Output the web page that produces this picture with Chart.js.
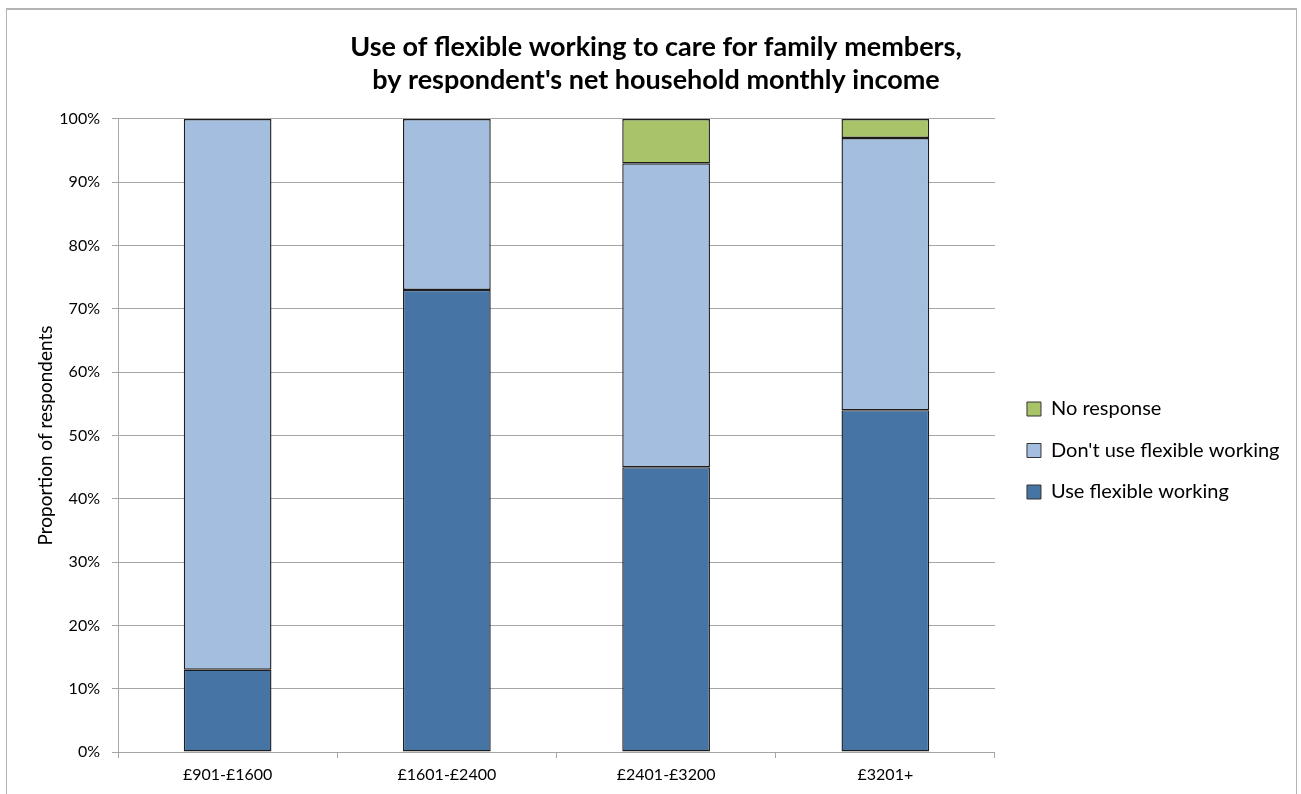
<!DOCTYPE html>
<html>
<head>
<meta charset="utf-8">
<script src="https://cdn.jsdelivr.net/npm/chart.js@4"></script>
<style>
  html, body { margin: 0; padding: 0; background: #fff; }
  #frame { position: absolute; left: 6px; top: 8px; width: 1289px; height: 800px;
           border-top: 2px solid #b4b4b4; border-left: 1px solid #b4b4b4; border-right: 1px solid #b4b4b4; }
  #wrap { position: absolute; left: 10px; top: 0; width: 1290px; height: 794px; }
</style>
</head>
<body>
<div id="frame"></div>
<div id="wrap"><canvas id="c"></canvas></div>
<script>
const incomeBands = ['£901-£1600', '£1601-£2400', '£2401-£3200', '£3201+'];
const useFlexible = [13, 73, 45, 54];
const dontUseFlexible = [87, 27, 48, 43];
const noResponse = [0, 0, 7, 3];
const yTicks = [0, 10, 20, 30, 40, 50, 60, 70, 80, 90, 100];

const FONT = 'Lato, "Open Sans", sans-serif';
const GRID = '#a6a6a6';

function seg(label, data, color) {
  return {
    label: label,
    data: data,
    backgroundColor: color,
    borderColor: '#1c1c1c',
    borderWidth: 1.4,
    borderSkipped: false,
    barPercentage: 0.4,
    categoryPercentage: 1.0
  };
}

new Chart(document.getElementById('c'), {
  type: 'bar',
  data: {
    labels: incomeBands,
    datasets: [
      seg('Use flexible working', useFlexible, '#4674a5'),
      seg("Don't use flexible working", dontUseFlexible, '#a3bedf'),
      seg('No response', noResponse, '#a9c368')
    ]
  },
  options: {
    responsive: true,
    maintainAspectRatio: false,
    animation: false,
    layout: { padding: { top: 0, right: 10.5, bottom: 0, left: 12.5 } },
    plugins: {
      tooltip: { enabled: false },
      title: {
        display: true,
        text: ['Use of flexible working to care for family members,', "by respondent's net household monthly income"],
        color: '#000',
        font: { family: FONT, size: 27, weight: 'bold', lineHeight: 1.222 },
        padding: { top: 30.5, bottom: 22.5 }
      },
      legend: {
        position: 'right',
        reverse: true,
        maxWidth: 360,
        // blank title only pushes the entries down the right-hand column
        title: { display: true, text: ' ', font: { size: 10, lineHeight: 1 }, padding: { top: 0, bottom: 97 } },
        labels: {
          color: '#000',
          font: { family: FONT, size: 20 },
          boxWidth: 14,
          boxHeight: 14,
          padding: 21.5,
          generateLabels(chart) {
            const items = Chart.defaults.plugins.legend.labels.generateLabels(chart);
            items.forEach(it => { it.strokeStyle = '#333'; it.lineWidth = 1; });
            return items;
          }
        }
      }
    },
    scales: {
      x: {
        stacked: true,
        afterFit(s) { s.height = 42; },
        grid: { display: true, drawOnChartArea: false, color: GRID, tickLength: 6 },
        border: { color: GRID },
        ticks: { color: '#000', font: { family: FONT, size: 16 }, padding: 7 }
      },
      y: {
        stacked: true,
        min: 0,
        max: 100,
        afterFit(s) { s.width = 95.5; },
        afterBuildTicks(axis) { axis.ticks = yTicks.map(v => ({ value: v })); },
        grid: { color: GRID, tickLength: 6 },
        border: { color: GRID },
        ticks: {
          color: '#000',
          font: { family: FONT, size: 16 },
          padding: 12,
          callback: v => v + '%'
        },
        title: {
          display: true,
          text: 'Proportion of respondents',
          color: '#000',
          font: { family: FONT, size: 19 },
          padding: { top: 12, bottom: 0 }
        }
      },
      // empty right-hand axis: a gap between the plot and the legend
      gap: {
        position: 'right',
        grid: { display: false },
        border: { display: false },
        ticks: { display: false },
        afterFit(s) { s.width = 10.5; }
      }
    }
  }
});
</script>
</body>
</html>
